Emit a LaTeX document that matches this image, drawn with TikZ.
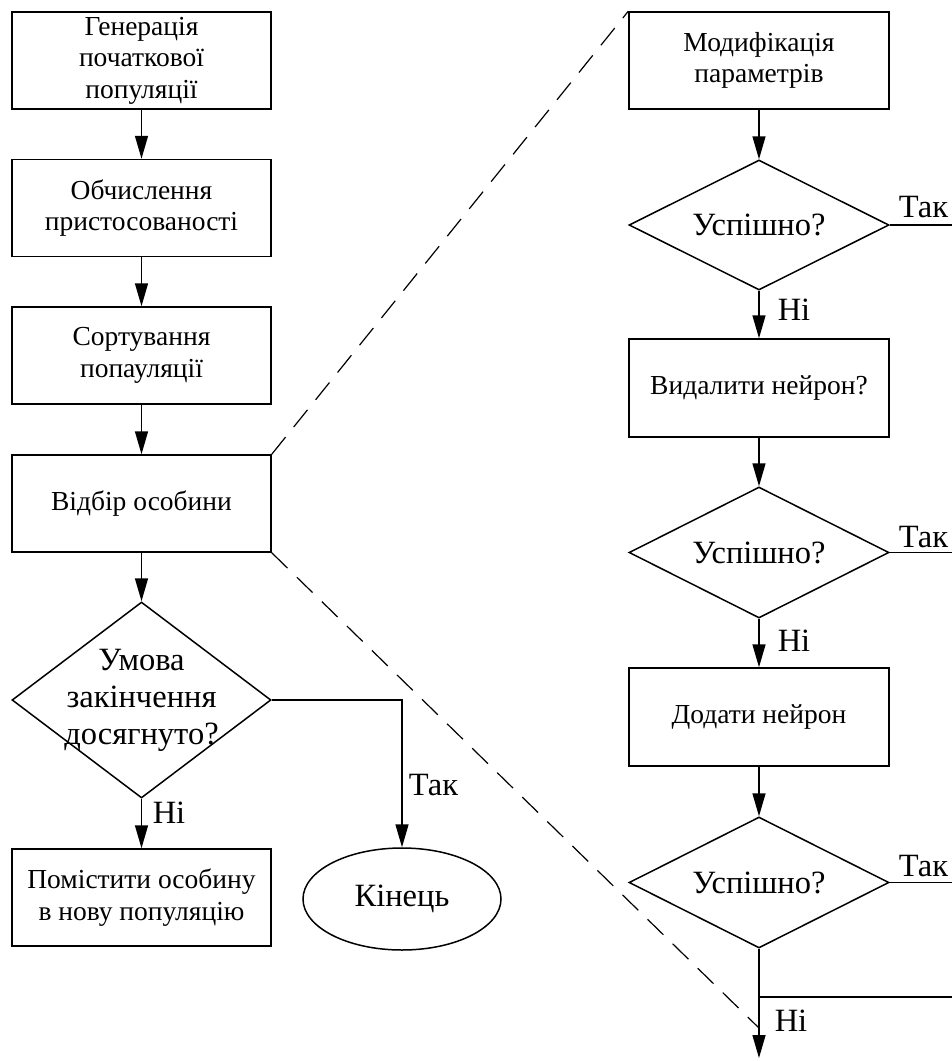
\documentclass[tikz,border=0pt]{standalone}
\usepackage{fontspec}
\setmainfont{Liberation Serif}
\usetikzlibrary{arrows.meta,shapes.geometric}
\begin{document}
\begin{tikzpicture}[x=1pt,y=-1pt,
  line width=1.5pt,
  stepbox/.style={draw, rectangle, minimum width=259pt, minimum height=97pt,
    inner sep=0pt, align=center, font=\fontsize{27.5}{31.5}\selectfont},
  decision/.style={draw, diamond, inner sep=0pt, shape aspect=1},
  dtext/.style={font=\fontsize{32.5}{37}\selectfont, align=center, inner sep=0pt},
  lbl/.style={font=\fontsize{32.5}{37}\selectfont, inner sep=0pt, anchor=base west},
  flow/.style={-{Triangle[length=23pt,width=13pt]}},
  zoomline/.style={line width=1.2pt, dash pattern=on 22pt off 13pt}
]
\useasboundingbox (0,0) rectangle (952,1061);

% main loop of the genetic algorithm
\node[stepbox] (gen)  at (141.5,60.5)  {Генерація\\початкової\\популяції};
\node[stepbox] (fit)  at (141.5,208)   {Обчислення\\пристосованості};
\node[stepbox] (sort) at (141.5,355.5) {Сортування\\попауляції};
\node[stepbox] (sel)  at (141.5,503.5) {Відбір особини};
\node[decision, minimum width=259pt, minimum height=196pt,
      label={[dtext]center:Умова\\закінчення\\досягнуто?}] (stop) at (141.5,700) {};
\node[stepbox] (put)  at (141.5,897.5) {Помістити особину\\в нову популяцію};
\node[draw, ellipse, minimum width=198pt, minimum height=102pt, inner sep=0pt,
      font=\fontsize{32.5}{37}\selectfont] (end) at (402,899) {Кінець};
\coordinate (turn) at (402,700);

\draw[flow] (gen) -- (fit);
\draw[flow] (fit) -- (sort);
\draw[flow] (sort) -- (sel);
\draw[flow] (sel) -- (stop);
\draw[flow] (stop) -- (put);
\draw[flow] (stop.east) -- (turn) -- (end);
\node[lbl] (no0)  at (152,823) {Ні};
\node[lbl] (yes0) at (408,795) {Так};

% detail of the mutation step
\node[stepbox, minimum width=260pt] (mod) at (759,60.5) {Модифікація\\параметрів};
\node[decision, minimum width=260pt, minimum height=130pt,
      label={[dtext]center:Успішно?}] (ok1) at (759,225) {};
\node[stepbox, minimum width=260pt, minimum height=98pt] (del) at (759,388) {Видалити нейрон?};
\node[decision, minimum width=260pt, minimum height=131pt,
      label={[dtext]center:Успішно?}] (ok2) at (759,552.5) {};
\node[stepbox, minimum width=260pt, minimum height=98pt] (add) at (759,717) {Додати нейрон};
\node[decision, minimum width=260pt, minimum height=131pt,
      label={[dtext]center:Успішно?}] (ok3) at (759,882.5) {};

\coordinate (yes1) at (952,225);
\coordinate (yes2) at (952,552.5);
\coordinate (yes3) at (952,882.5);
\coordinate (join) at (759,997);
\coordinate (joinr) at (952,997);
\coordinate (out) at (759,1058);
\coordinate (zoomend) at (759,1028);

\draw[flow] (mod) -- (ok1);
\draw[flow] (ok1) -- (del);
\draw[flow] (del) -- (ok2);
\draw[flow] (ok2) -- (add);
\draw[flow] (add) -- (ok3);
\draw[flow] (ok3) -- (out);
\draw (ok1.east) -- (yes1);
\draw (ok2.east) -- (yes2);
\draw (ok3.east) -- (yes3);
\draw (join) -- (joinr);

\node[lbl] (t1) at (898,217) {Так};
\node[lbl] (t2) at (898,547) {Так};
\node[lbl] (t3) at (898,876) {Так};
\node[lbl] (n1) at (777,320) {Ні};
\node[lbl] (n2) at (777,651) {Ні};
\node[lbl] (n3) at (774,1031) {Ні};

% dashed lines that open the detail view
\draw[zoomline] (sel.north east) -- (mod.north west);
\draw[zoomline] (sel.south east) -- (zoomend);
\end{tikzpicture}
\end{document}
